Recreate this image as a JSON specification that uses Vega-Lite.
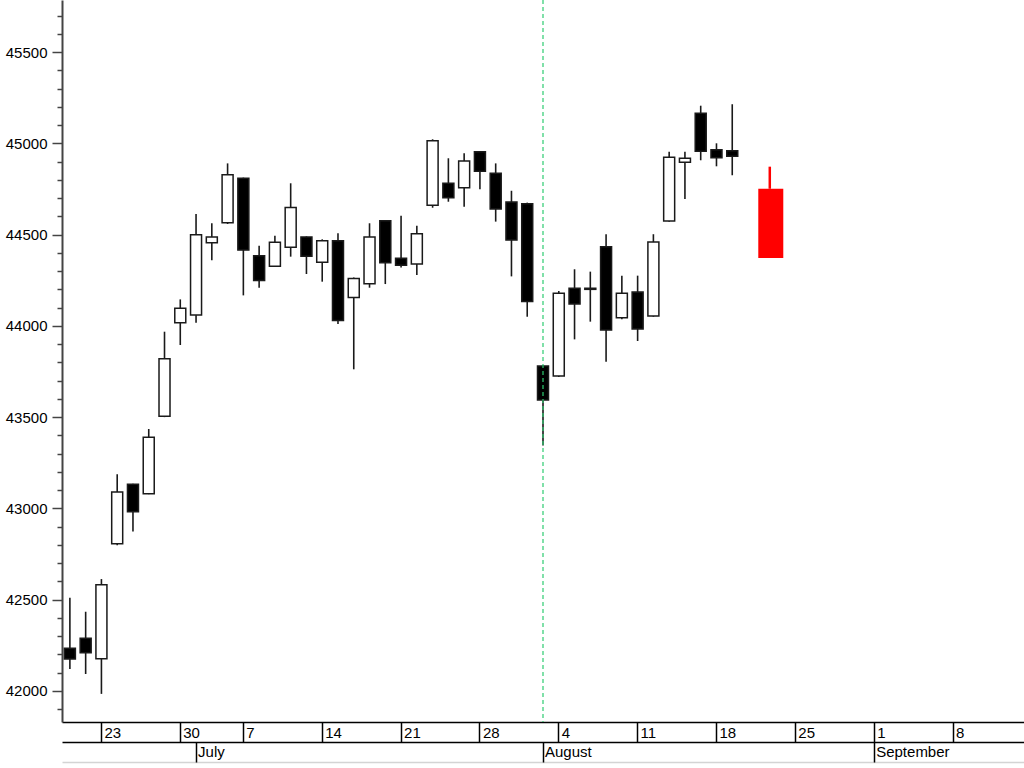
{
  "$schema": "https://vega.github.io/schema/vega-lite/v6.json",
  "width": 962,
  "height": 722,
  "autosize": {"type": "none"},
  "padding": {"left": 62, "top": 0, "right": 0, "bottom": 46},
  "background": "white",
  "config": {
    "view": {"stroke": null},
    "axis": {"labelFont": "Liberation Sans", "labelFontSize": 15, "labelColor": "#000", "grid": false, "labelOverlap": false, "labelFlush": false, "title": null}
  },
  "datasets": {
    "dates": [
      {"d": "2025-06-18"}, {"d": "2025-06-20"}, {"d": "2025-06-23"}, {"d": "2025-06-24"}, {"d": "2025-06-25"}, {"d": "2025-06-26"}, {"d": "2025-06-27"}, {"d": "2025-06-30"},
      {"d": "2025-07-01"}, {"d": "2025-07-02"}, {"d": "2025-07-03"}, {"d": "2025-07-07"}, {"d": "2025-07-08"}, {"d": "2025-07-09"}, {"d": "2025-07-10"}, {"d": "2025-07-11"},
      {"d": "2025-07-14"}, {"d": "2025-07-15"}, {"d": "2025-07-16"}, {"d": "2025-07-17"}, {"d": "2025-07-18"}, {"d": "2025-07-21"}, {"d": "2025-07-22"}, {"d": "2025-07-23"},
      {"d": "2025-07-24"}, {"d": "2025-07-25"}, {"d": "2025-07-28"}, {"d": "2025-07-29"}, {"d": "2025-07-30"}, {"d": "2025-07-31"},
      {"d": "2025-08-01"}, {"d": "2025-08-04"}, {"d": "2025-08-05"}, {"d": "2025-08-06"}, {"d": "2025-08-07"}, {"d": "2025-08-08"}, {"d": "2025-08-11"}, {"d": "2025-08-12"},
      {"d": "2025-08-13"}, {"d": "2025-08-14"}, {"d": "2025-08-15"}, {"d": "2025-08-18"}, {"d": "2025-08-19"}, {"d": "2025-08-20"}, {"d": "2025-08-21"}, {"d": "2025-08-22"},
      {"d": "2025-08-25"}, {"d": "2025-08-26"}, {"d": "2025-08-27"}, {"d": "2025-08-28"}, {"d": "2025-08-29"},
      {"d": "2025-09-01"}, {"d": "2025-09-02"}, {"d": "2025-09-03"}, {"d": "2025-09-04"}, {"d": "2025-09-05"}, {"d": "2025-09-08"}, {"d": "2025-09-09"}, {"d": "2025-09-10"}, {"d": "2025-09-11"}, {"d": "2025-09-12"}
    ],
    "candles": [
      {"d": "2025-06-18", "o": 42234, "h": 42511, "l": 42120, "c": 42175},
      {"d": "2025-06-20", "o": 42289, "h": 42434, "l": 42093, "c": 42210},
      {"d": "2025-06-23", "o": 42177, "h": 42613, "l": 41984, "c": 42582},
      {"d": "2025-06-24", "o": 42807, "h": 43187, "l": 42798, "c": 43090},
      {"d": "2025-06-25", "o": 43132, "h": 43135, "l": 42873, "c": 42982},
      {"d": "2025-06-26", "o": 43081, "h": 43435, "l": 43078, "c": 43390},
      {"d": "2025-06-27", "o": 43505, "h": 43968, "l": 43500, "c": 43820},
      {"d": "2025-06-30", "o": 44017, "h": 44145, "l": 43895, "c": 44096},
      {"d": "2025-07-01", "o": 44059, "h": 44613, "l": 44017, "c": 44499},
      {"d": "2025-07-02", "o": 44455, "h": 44562, "l": 44359, "c": 44487},
      {"d": "2025-07-03", "o": 44565, "h": 44890, "l": 44558, "c": 44828},
      {"d": "2025-07-07", "o": 44808, "h": 44812, "l": 44167, "c": 44415},
      {"d": "2025-07-08", "o": 44384, "h": 44439, "l": 44209, "c": 44249},
      {"d": "2025-07-09", "o": 44326, "h": 44494, "l": 44322, "c": 44458},
      {"d": "2025-07-10", "o": 44430, "h": 44781, "l": 44379, "c": 44649},
      {"d": "2025-07-11", "o": 44487, "h": 44490, "l": 44284, "c": 44381},
      {"d": "2025-07-14", "o": 44348, "h": 44474, "l": 44242, "c": 44466},
      {"d": "2025-07-15", "o": 44466, "h": 44507, "l": 44010, "c": 44030},
      {"d": "2025-07-16", "o": 44156, "h": 44265, "l": 43762, "c": 44260},
      {"d": "2025-07-17", "o": 44231, "h": 44562, "l": 44209, "c": 44487},
      {"d": "2025-07-18", "o": 44576, "h": 44580, "l": 44229, "c": 44346},
      {"d": "2025-07-21", "o": 44370, "h": 44603, "l": 44319, "c": 44332},
      {"d": "2025-07-22", "o": 44339, "h": 44549, "l": 44279, "c": 44505},
      {"d": "2025-07-23", "o": 44660, "h": 45022, "l": 44647, "c": 45014},
      {"d": "2025-07-24", "o": 44781, "h": 44918, "l": 44680, "c": 44702},
      {"d": "2025-07-25", "o": 44757, "h": 44945, "l": 44653, "c": 44903},
      {"d": "2025-07-28", "o": 44954, "h": 44958, "l": 44748, "c": 44847},
      {"d": "2025-07-29", "o": 44836, "h": 44890, "l": 44571, "c": 44640},
      {"d": "2025-07-30", "o": 44678, "h": 44740, "l": 44271, "c": 44470},
      {"d": "2025-07-31", "o": 44669, "h": 44675, "l": 44050, "c": 44134},
      {"d": "2025-08-01", "o": 43780, "h": 43785, "l": 43344, "c": 43594},
      {"d": "2025-08-04", "o": 43725, "h": 44191, "l": 43720, "c": 44178},
      {"d": "2025-08-05", "o": 44206, "h": 44310, "l": 43926, "c": 44120},
      {"d": "2025-08-06", "o": 44200, "h": 44297, "l": 44023, "c": 44206},
      {"d": "2025-08-07", "o": 44434, "h": 44502, "l": 43804, "c": 43977},
      {"d": "2025-08-08", "o": 44045, "h": 44275, "l": 44036, "c": 44178},
      {"d": "2025-08-11", "o": 44185, "h": 44275, "l": 43917, "c": 43983},
      {"d": "2025-08-12", "o": 44054, "h": 44502, "l": 44050, "c": 44459},
      {"d": "2025-08-13", "o": 44574, "h": 44954, "l": 44570, "c": 44923},
      {"d": "2025-08-14", "o": 44896, "h": 44954, "l": 44695, "c": 44918},
      {"d": "2025-08-15", "o": 45164, "h": 45206, "l": 44907, "c": 44956},
      {"d": "2025-08-18", "o": 44965, "h": 45000, "l": 44874, "c": 44921},
      {"d": "2025-08-19", "o": 44959, "h": 45214, "l": 44825, "c": 44929}
    ],
    "forecast": [
      {"d": "2025-08-21", "o": 44751, "h": 44872, "c": 44372}
    ],
    "marker": [
      {"d": "2025-08-01"}
    ]
  },
  "layer": [
    {
      "data": {"name": "dates"},
      "mark": {"type": "tick", "opacity": 0},
      "encoding": {
        "x": {"field": "d", "type": "ordinal", "scale": {"type": "band", "paddingInner": 0, "paddingOuter": 0},
          "axis": {"offset": 40, "values": [], "ticks": false, "labels": false, "domainColor": "#d4d4d4", "domainWidth": 1.5, "orient": "bottom"}},
        "y": {"datum": 42000, "type": "quantitative"}
      }
    },
    {
      "data": {"name": "candles"},
      "mark": {"type": "rule", "color": "#1a1a1a", "strokeWidth": 1.6},
      "encoding": {
        "x": {"field": "d", "type": "ordinal",
          "axis": {"orient": "bottom", "values": ["2025-06-23", "2025-06-30", "2025-07-07", "2025-07-14", "2025-07-21", "2025-07-28", "2025-08-04", "2025-08-11", "2025-08-18", "2025-08-25", "2025-09-01", "2025-09-08"],
            "labelExpr": "toNumber(slice(datum.value, 8))", "labelAngle": 0, "tickSize": 20, "tickColor": "#000", "tickWidth": 1.5, "domainColor": "#000", "domainWidth": 1.5,
            "labelAlign": "left", "labelBaseline": "middle", "labelPadding": -9.5, "labelOffset": 3}},
        "y": {"field": "l", "type": "quantitative",
          "scale": {"domain": [41830, 45785], "nice": false, "zero": false},
          "axis": {"values": [41900, 42000, 42100, 42200, 42300, 42400, 42500, 42600, 42700, 42800, 42900, 43000, 43100, 43200, 43300, 43400, 43500, 43600, 43700, 43800, 43900, 44000, 44100, 44200, 44300, 44400, 44500, 44600, 44700, 44800, 44900, 45000, 45100, 45200, 45300, 45400, 45500, 45600, 45700],
            "tickCount": 200,
            "labelExpr": "datum.value % 500 == 0 ? '' + datum.value : ''",
            "tickSize": {"condition": {"test": "datum.value % 500 == 0", "value": 10}, "value": 5},
            "tickColor": "#444", "tickWidth": 1.5, "domainColor": "#444", "domainWidth": 2, "labelPadding": 5}},
        "y2": {"field": "h"}
      }
    },
    {
      "data": {"name": "candles"},
      "mark": {"type": "bar", "size": 11, "stroke": "#1a1a1a", "strokeWidth": 1.5},
      "encoding": {
        "x": {"field": "d", "type": "ordinal",
          "axis": {"orient": "bottom", "offset": 20, "values": ["2025-07-01", "2025-08-01", "2025-09-01"],
            "labelExpr": "datum.value == '2025-07-01' ? 'July' : datum.value == '2025-08-01' ? 'August' : 'September'",
            "labelAngle": 0, "tickSize": 20, "tickColor": "#000", "tickWidth": 1.5, "domainColor": "#000", "domainWidth": 1.5,
            "labelAlign": "left", "labelBaseline": "middle", "labelPadding": -10.5, "labelOffset": 2}},
        "y": {"field": "o", "type": "quantitative"},
        "y2": {"field": "c"},
        "fill": {"condition": {"test": "datum.c >= datum.o", "value": "#ffffff"}, "value": "#000000"}
      }
    },
    {
      "data": {"name": "forecast"},
      "mark": {"type": "rule", "color": "#ff0000", "strokeWidth": 2.5, "xOffset": 6},
      "encoding": {
        "x": {"field": "d", "type": "ordinal", "axis": null},
        "y": {"field": "o", "type": "quantitative"},
        "y2": {"field": "h"}
      }
    },
    {
      "data": {"name": "forecast"},
      "mark": {"type": "bar", "size": 25, "color": "#ff0000", "xOffset": 7},
      "encoding": {
        "x": {"field": "d", "type": "ordinal", "axis": null},
        "y": {"field": "o", "type": "quantitative"},
        "y2": {"field": "c"}
      }
    },
    {
      "data": {"name": "marker"},
      "mark": {"type": "rule", "color": "#2ecc71", "strokeWidth": 1.2, "strokeDash": [4, 3]},
      "encoding": {
        "x": {"field": "d", "type": "ordinal", "axis": null}
      }
    }
  ],
  "resolve": {"axis": {"x": "independent"}}
}
